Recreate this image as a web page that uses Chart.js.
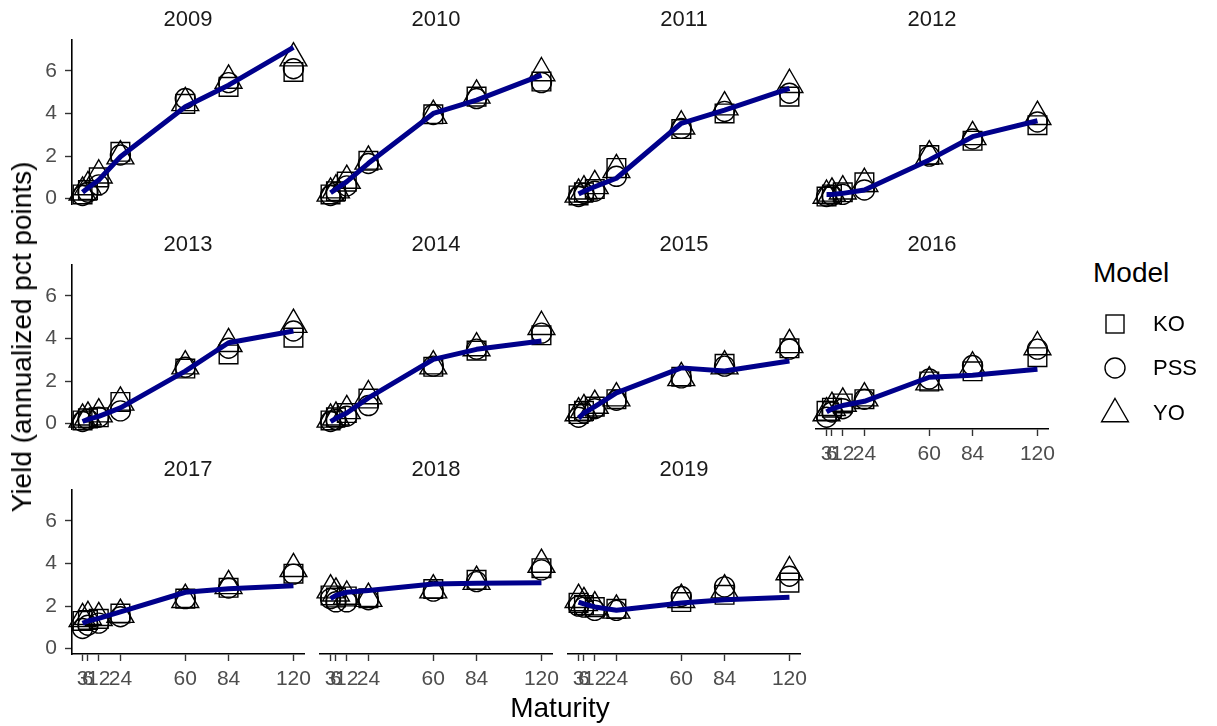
<!DOCTYPE html>
<html>
<head>
<meta charset="utf-8">
<script src="https://cdn.jsdelivr.net/npm/chart.js@4.4.1/dist/chart.umd.min.js"></script>
<style>
  body { margin: 0; background: #fff; width: 1217px; height: 726px; position: relative; overflow: hidden;
         font-family: 'Liberation Sans', Arial, Helvetica, sans-serif; }
  canvas { position: absolute; }
  .txt { position: absolute; white-space: nowrap; line-height: 1; }
</style>
</head>
<body>
<script>
// Maturities (months) and the estimation years shown as facets
const maturities = [3, 6, 12, 24, 60, 84, 120];
const years = [2009, 2010, 2011, 2012, 2013, 2014, 2015, 2016, 2017, 2018, 2019];
const yTicks = [0, 2, 4, 6];

// Observed yield curve per year (annualized pct points)
const observedYields = [
  [0.30, 0.50, 0.88, 1.97, 4.32, 5.33, 7.10],
  [0.28, 0.45, 0.80, 1.66, 4.00, 4.63, 5.80],
  [0.22, 0.35, 0.56, 0.96, 3.54, 4.16, 5.18],
  [0.20, 0.20, 0.25, 0.41, 1.82, 2.91, 3.66],
  [0.10, 0.20, 0.34, 0.74, 2.47, 3.80, 4.35],
  [0.10, 0.25, 0.50, 1.21, 3.02, 3.49, 3.88],
  [0.26, 0.50, 0.80, 1.45, 2.62, 2.47, 2.94],
  [0.55, 0.70, 0.85, 1.05, 2.18, 2.27, 2.55],
  [1.19, 1.30, 1.42, 1.73, 2.65, 2.81, 2.96],
  [2.35, 2.50, 2.65, 2.73, 3.04, 3.07, 3.10],
  [2.19, 2.10, 1.96, 1.80, 2.14, 2.30, 2.42]
];

// Model-implied yields
const koYields = [
  [0.20, 0.40, 1.00, 2.20, 4.45, 5.25, 5.95],
  [0.20, 0.35, 0.80, 1.78, 3.96, 4.79, 5.50],
  [0.15, 0.30, 0.45, 1.44, 3.27, 4.00, 4.79],
  [0.10, 0.20, 0.30, 0.77, 2.05, 2.72, 3.45],
  [0.15, 0.25, 0.30, 1.02, 2.59, 3.25, 4.04],
  [0.15, 0.30, 0.50, 1.18, 2.67, 3.43, 4.15],
  [0.45, 0.60, 0.80, 1.15, 2.20, 2.81, 3.54],
  [0.60, 0.75, 0.95, 1.15, 1.98, 2.46, 3.12],
  [1.30, 1.35, 1.40, 1.65, 2.35, 2.86, 3.52],
  [2.50, 2.40, 2.45, 2.37, 2.80, 3.23, 3.78],
  [2.15, 2.05, 1.95, 1.87, 2.19, 2.53, 3.10]
];
const pssYields = [
  [0.15, 0.30, 0.65, 2.05, 4.70, 5.45, 6.10],
  [0.15, 0.30, 0.60, 1.65, 3.95, 4.70, 5.45],
  [0.10, 0.25, 0.35, 1.05, 3.30, 4.10, 4.95],
  [0.10, 0.15, 0.20, 0.41, 2.00, 2.80, 3.60],
  [0.10, 0.20, 0.30, 0.60, 2.65, 3.54, 4.35],
  [0.10, 0.20, 0.35, 0.85, 2.70, 3.50, 4.25],
  [0.30, 0.50, 0.70, 1.10, 2.15, 2.70, 3.50],
  [0.30, 0.55, 0.70, 1.15, 2.10, 2.73, 3.50],
  [0.95, 1.10, 1.20, 1.50, 2.35, 2.85, 3.50],
  [2.35, 2.20, 2.20, 2.30, 2.70, 3.15, 3.70],
  [2.00, 1.95, 1.80, 1.80, 2.45, 2.90, 3.40]
];
const yoYields = [
  [0.30, 0.55, 1.10, 2.00, 4.50, 5.55, 6.60],
  [0.25, 0.40, 0.85, 1.75, 3.90, 4.85, 5.90],
  [0.20, 0.35, 0.60, 1.35, 3.40, 4.30, 5.35],
  [0.15, 0.25, 0.35, 0.70, 2.00, 2.90, 3.85],
  [0.20, 0.30, 0.45, 1.00, 2.70, 3.75, 4.65],
  [0.20, 0.30, 0.60, 1.30, 2.70, 3.55, 4.55],
  [0.50, 0.65, 0.85, 1.20, 2.15, 2.70, 3.70],
  [0.50, 0.75, 0.95, 1.20, 1.95, 2.65, 3.60],
  [1.40, 1.50, 1.45, 1.60, 2.30, 2.95, 3.75],
  [2.75, 2.60, 2.45, 2.35, 2.75, 3.15, 3.95],
  [2.30, 2.15, 1.95, 1.80, 2.30, 2.75, 3.60]
];

const FONT = "'Liberation Sans', Arial, Helvetica, sans-serif";
const colLeft = [72, 320, 568, 816];
const rowTop = [40, 265, 490];
const PW = 232, PH = 164;
const PAD_L = 70, PAD_T = 26, PAD_B = 40, PAD_R = 24;

function addText(text, x, y, size, color, extra) {
  const d = document.createElement('div');
  d.className = 'txt';
  d.textContent = text;
  d.style.left = x + 'px';
  d.style.top = y + 'px';
  d.style.fontSize = size + 'px';
  d.style.color = color;
  d.style.transform = extra || 'translate(-50%, -50%)';
  document.body.appendChild(d);
  return d;
}

const markerBase = {
  showLine: false,
  pointBackgroundColor: 'rgba(0,0,0,0)',
  pointBorderColor: '#000',
  pointBorderWidth: 1.4,
  pointHoverRadius: 0,
  clip: false
};

years.forEach((yr, i) => {
  const col = i % 4, row = Math.floor(i / 4);
  const showX = row === 2 || yr === 2016;
  const showY = col === 0;

  const cv = document.createElement('canvas');
  cv.width = PAD_L + PW + PAD_R;
  cv.height = PAD_T + PH + PAD_B;
  cv.style.left = (colLeft[col] - PAD_L) + 'px';
  cv.style.top = (rowTop[row] - PAD_T) + 'px';
  document.body.appendChild(cv);

  // facet strip label
  addText(String(yr), colLeft[col] + PW / 2, rowTop[row] - 21, 22, '#1a1a1a');

  const pts = arr => maturities.map((m, k) => ({ x: m, y: arr[i][k] }));

  new Chart(cv, {
    type: 'scatter',
    data: {
      datasets: [
        { label: 'Observed', data: pts(observedYields), showLine: true, borderColor: '#00008B',
          borderWidth: 5, borderJoinStyle: 'round', pointRadius: 0, pointHoverRadius: 0, clip: false, order: 0 },
        Object.assign({ label: 'KO', data: pts(koYields), pointStyle: 'rect', pointRadius: 13.2, order: 1 }, markerBase),
        Object.assign({ label: 'PSS', data: pts(pssYields), pointStyle: 'circle', pointRadius: 10, order: 2 }, markerBase),
        Object.assign({ label: 'YO', data: pts(yoYields), pointStyle: 'triangle', pointRadius: 15.5, order: 3 }, markerBase)
      ]
    },
    options: {
      responsive: false,
      animation: false,
      devicePixelRatio: 1,
      events: [],
      layout: { padding: { top: PAD_T, right: PAD_R, left: 0, bottom: 0 } },
      plugins: { legend: { display: false }, tooltip: { enabled: false }, title: { display: false } },
      scales: {
        x: {
          type: 'linear', min: -2.85, max: 125.85,
          afterBuildTicks: s => { s.ticks = maturities.map(v => ({ value: v })); },
          afterFit: s => { s.height = PAD_B; },
          ticks: { display: showX, autoSkip: false, maxRotation: 0, minRotation: 0,
                   color: '#4d4d4d', font: { family: FONT, size: 21 }, padding: 6 },
          grid: { display: showX, drawOnChartArea: false, drawTicks: true, tickLength: 7,
                  color: '#333', tickWidth: 1.4 },
          border: { display: showX, color: '#000', width: 1.6 }
        },
        y: {
          type: 'linear', min: -0.25, max: 7.45,
          afterBuildTicks: s => { s.ticks = yTicks.map(v => ({ value: v })); },
          afterFit: s => { s.width = PAD_L; },
          ticks: { display: showY, color: '#4d4d4d', font: { family: FONT, size: 21 }, padding: 8 },
          grid: { display: showY, drawOnChartArea: false, drawTicks: true, tickLength: 7,
                  color: '#333', tickWidth: 1.4 },
          border: { display: showY, color: '#000', width: 1.6 }
        }
      }
    }
  });
});

// Axis titles
addText('Maturity', 560, 707.5, 28, '#000');
addText('Yield (annualized pct points)', 22, 337, 28, '#000', 'translate(-50%, -50%) rotate(-90deg)');

// Legend
addText('Model', 1093, 273, 28, '#000', 'translate(0, -50%)');
const svgNS = 'http://www.w3.org/2000/svg';
const svg = document.createElementNS(svgNS, 'svg');
svg.setAttribute('width', '60');
svg.setAttribute('height', '140');
svg.style.position = 'absolute';
svg.style.left = '1085px';
svg.style.top = '300px';
svg.innerHTML =
  '<rect x="21" y="15" width="18" height="18" fill="none" stroke="#000" stroke-width="1.4"/>' +
  '<circle cx="30" cy="68" r="10" fill="none" stroke="#000" stroke-width="1.4"/>' +
  '<polygon points="30,98.5 43.4,121.75 16.6,121.75" fill="none" stroke="#000" stroke-width="1.4"/>';
document.body.appendChild(svg);
addText('KO', 1153, 324, 22, '#000', 'translate(0, -50%)');
addText('PSS', 1153, 368, 22, '#000', 'translate(0, -50%)');
addText('YO', 1153, 413, 22, '#000', 'translate(0, -50%)');
</script>
</body>
</html>
